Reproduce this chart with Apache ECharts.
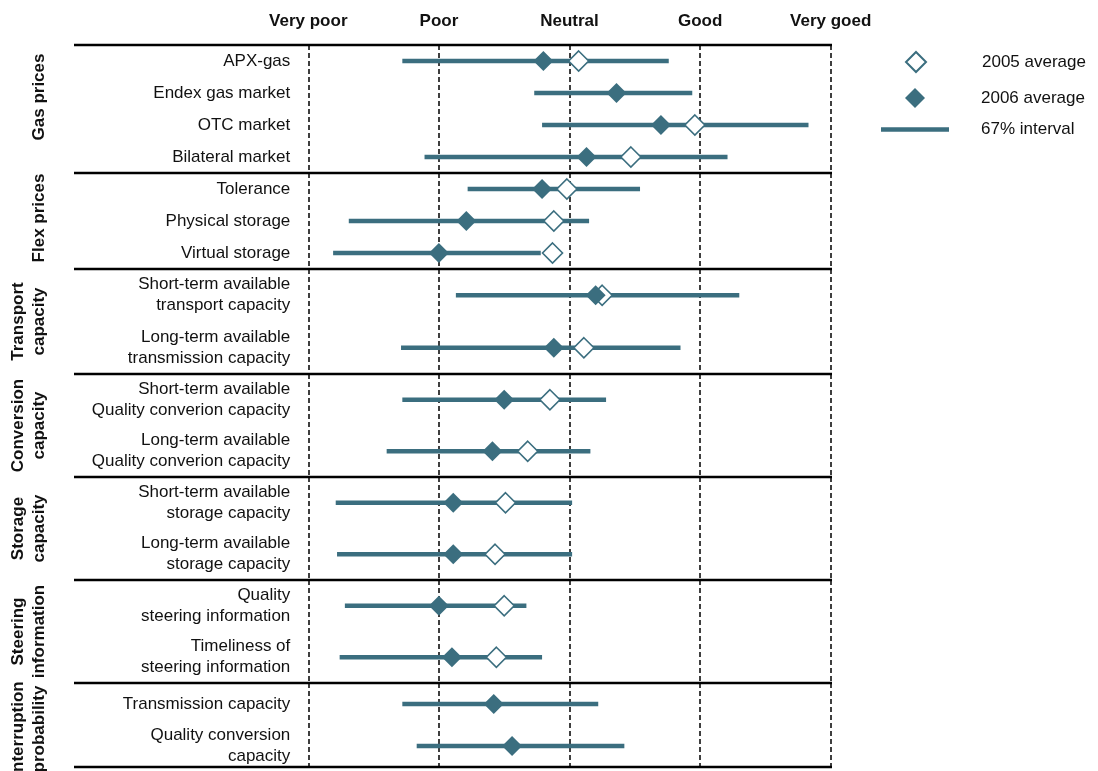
<!DOCTYPE html>
<html>
<head>
<meta charset="utf-8">
<title>Market assessment 2005–2006</title>
<script src="https://cdn.jsdelivr.net/npm/echarts@6/dist/echarts.min.js"></script>
<style>
  html, body { margin: 0; padding: 0; background: #fff; }
  #chart { width: 1098px; height: 771px; }
</style>
</head>
<body>
<div id="chart"></div>
<script>
// Rating scale (1 = very poor ... 5 = very good)
const ratingLabels = ['Very poor', 'Poor', 'Neutral', 'Good', 'Very goed'];

const groupNames = [
  'Gas prices',
  'Flex prices',
  'Transport\ncapacity',
  'Conversion\ncapacity',
  'Storage\ncapacity',
  'Steering\ninformation',
  'Interruption\nprobability'
];

const categories = [
  ['APX-gas', 'Endex gas market', 'OTC market', 'Bilateral market'],
  ['Tolerance', 'Physical storage', 'Virtual storage'],
  ['Short-term available\ntransport capacity', 'Long-term available\ntransmission capacity'],
  ['Short-term available\nQuality converion capacity', 'Long-term available\nQuality converion capacity'],
  ['Short-term available\nstorage capacity', 'Long-term available\nstorage capacity'],
  ['Quality\nsteering information', 'Timeliness of\nsteering information'],
  ['Transmission capacity', 'Quality conversion\ncapacity']
];

const avg2005 = [
  [3.07, null, 3.96, 3.47],
  [2.98, 2.88, 2.87],
  [3.25, 3.11],
  [2.85, 2.68],
  [2.51, 2.43],
  [2.50, 2.44],
  [null, null]
];

const avg2006 = [
  [2.80, 3.36, 3.70, 3.13],
  [2.79, 2.21, 2.00],
  [3.20, 2.88],
  [2.50, 2.41],
  [2.11, 2.11],
  [2.00, 2.10],
  [2.42, 2.56]
];

const low67 = [
  [1.72, 2.73, 2.79, 1.89],
  [2.22, 1.31, 1.19],
  [2.13, 1.71],
  [1.72, 1.60],
  [1.21, 1.22],
  [1.28, 1.24],
  [1.72, 1.83]
];

const high67 = [
  [3.76, 3.94, 4.83, 4.21],
  [3.54, 3.15, 2.78],
  [4.30, 3.85],
  [3.28, 3.16],
  [3.02, 3.02],
  [2.67, 2.79],
  [3.22, 3.42]
];

// ---- layout ----
const TEAL = '#3b6e7f';
const TEXT = '#111';
const FONT = '"Liberation Sans", Arial, Helvetica, sans-serif';
const plotLeft = 308.3;
const plotRight = 830.7;
const sepLeft = 74;
const sepRight = 832;
const bandEdges = [45, 173, 269, 374, 477, 580, 683, 767];
// extra room before / after some group titles, nudging them up or down
const titleLead = [24, 6, 0, 0, 0, 0, 0];
const titleTrail = [0, 0, 0, 0, 0, 0, 8];
const MARK = 20;

const grids = [], xAxes = [], yAxes = [], series = [], separators = [];

groupNames.forEach((name, g) => {
  const top = bandEdges[g];
  const height = bandEdges[g + 1] - top;
  grids.push({
    left: plotLeft, width: plotRight - plotLeft, top: top, height: height,
    outerBoundsMode: 'none'
  });

  xAxes.push({
    type: 'value', gridIndex: g, min: 1, max: 5, interval: 1,
    position: 'top',
    axisLine: { show: false },
    axisTick: { show: false },
    axisLabel: {
      show: g === 0, margin: 15, showMinLabel: true, showMaxLabel: true,
      formatter: v => ratingLabels[Math.round(v) - 1] || '',
      fontFamily: FONT, fontSize: 17, fontWeight: 'bold', color: TEXT
    },
    splitLine: { show: true, lineStyle: { color: '#000', width: 1.5, type: [5, 3] } }
  });

  yAxes.push({
    type: 'category', gridIndex: g, inverse: true,
    data: categories[g],
    axisLine: { show: false },
    axisTick: { show: false },
    splitLine: { show: false },
    axisLabel: { margin: 18, fontFamily: FONT, fontSize: 17, color: TEXT, lineHeight: 21 },
    name: name,
    nameLocation: 'middle',
    nameRotate: 90,
    nameGap: 258,
    nameTextStyle: {
      fontFamily: FONT, fontSize: 17, fontWeight: 'bold', color: TEXT, lineHeight: 21,
      padding: [0, titleTrail[g], 0, titleLead[g]]
    }
  });

  series.push({
    name: '67% interval', type: 'custom', xAxisIndex: g, yAxisIndex: g,
    itemStyle: { color: TEAL },
    encode: { x: [0, 1], y: 2 },
    data: categories[g].map((c, i) => [low67[g][i], high67[g][i], i]),
    renderItem: (params, api) => {
      const a = api.coord([api.value(0), api.value(2)]);
      const b = api.coord([api.value(1), api.value(2)]);
      return {
        type: 'line',
        shape: { x1: a[0], y1: a[1], x2: b[0], y2: b[1] },
        style: { stroke: TEAL, lineWidth: 4.5, lineCap: 'butt' }
      };
    }
  });

  series.push({
    name: '2005 average', type: 'scatter', xAxisIndex: g, yAxisIndex: g,
    symbol: 'diamond', symbolSize: MARK,
    itemStyle: { color: '#fff', borderColor: TEAL, borderWidth: 1.6, opacity: 1 },
    data: categories[g].map((c, i) => [avg2005[g][i] == null ? '-' : avg2005[g][i], i])
  });

  series.push({
    name: '2006 average', type: 'scatter', xAxisIndex: g, yAxisIndex: g,
    symbol: 'diamond', symbolSize: MARK,
    itemStyle: { color: TEAL, opacity: 1 },
    data: categories[g].map((c, i) => [avg2006[g][i], i])
  });
});

// horizontal rules that separate the groups
bandEdges.forEach(y => {
  separators.push({
    type: 'line', z: 50,
    shape: { x1: sepLeft, y1: y, x2: sepRight, y2: y },
    style: { stroke: '#000', lineWidth: 2.5 }
  });
});

const legendText = { fontFamily: FONT, fontSize: 17, color: TEXT };

const option = {
  animation: false,
  backgroundColor: '#fff',
  grid: grids,
  xAxis: xAxes,
  yAxis: yAxes,
  series: series,
  graphic: separators,
  legend: [
    {
      data: [{ name: '2005 average', icon: 'diamond' }],
      left: 905, top: 51, padding: 0, itemWidth: 20, itemHeight: 20,
      selectedMode: false,
      textStyle: Object.assign({ padding: [0, 0, 0, 51] }, legendText)
    },
    {
      data: [{ name: '2006 average', icon: 'diamond' }],
      left: 905, top: 88, padding: 0, itemWidth: 20, itemHeight: 20,
      selectedMode: false,
      textStyle: Object.assign({ padding: [0, 0, 0, 51] }, legendText)
    },
    {
      data: [{ name: '67% interval', icon: 'rect' }],
      left: 881, top: 121, padding: 0, itemWidth: 68, itemHeight: 4.5,
      selectedMode: false,
      textStyle: Object.assign({ padding: [0, 0, 0, 27] }, legendText)
    }
  ]
};

const chart = echarts.init(document.getElementById('chart'), null, { renderer: 'canvas' });
chart.setOption(option);
</script>
</body>
</html>
